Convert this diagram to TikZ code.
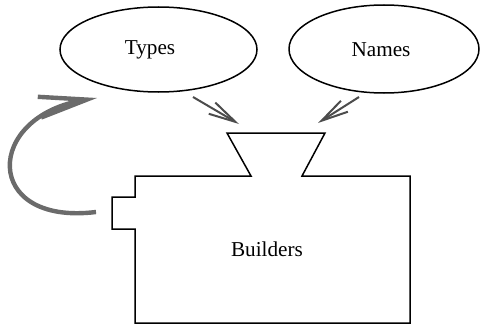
\documentclass[tikz,border=0pt]{standalone}
\usepackage{fontspec}
\setmainfont{Liberation Serif}
\usetikzlibrary{shapes.geometric,arrows.meta}
\begin{document}
\begin{tikzpicture}[x=0.5pt,y=-0.5pt,
  lbl/.style={font=\fontsize{10.6pt}{12pt}\selectfont, inner sep=0pt},
  blob/.style={draw, line width=0.75pt, ellipse, inner sep=0pt},
  outline/.style={draw, line width=0.75pt, line join=miter},
  feed/.style={draw=black!70, line width=1pt, -{Straight Barb[length=13.5pt,width=6.5pt]}},
  loop/.style={draw=black!58, line width=2.2pt, -{Straight Barb[length=24pt,width=10.5pt]}}]
\useasboundingbox (0,0) rectangle (480,326);
% ellipses
\node[blob, minimum width=98.5pt, minimum height=42.5pt] (types) at (158.5,49.5) {};
\node[lbl] (typeslbl) at (150,50) {Types};
\node[blob, minimum width=95pt, minimum height=44pt] (names) at (384,49) {};
\node[lbl] (nameslbl) at (381,50) {Names};
% builder machine
\path[outline] (135,176) -- (251,176) -- (227,133) -- (325,133) -- (302,176)
  -- (410,176) -- (410,323) -- (135,323) -- (135,229) -- (112,229) -- (112,197)
  -- (135,197) -- cycle;
\node[lbl] (builders) at (267,249) {Builders};
% connector end points
\coordinate (ts) at (193,97);
\coordinate (tt) at (239,124);
\coordinate (ns) at (359,97);
\coordinate (nt) at (318,123);
\coordinate (ls) at (96,212);
\coordinate (lt) at (97,98);
\draw[feed] (ts) -- (tt);
\draw[feed] (ns) -- (nt);
\draw[loop] (ls) .. controls (-18,226) and (-16,116) .. (lt);
\end{tikzpicture}
\end{document}
